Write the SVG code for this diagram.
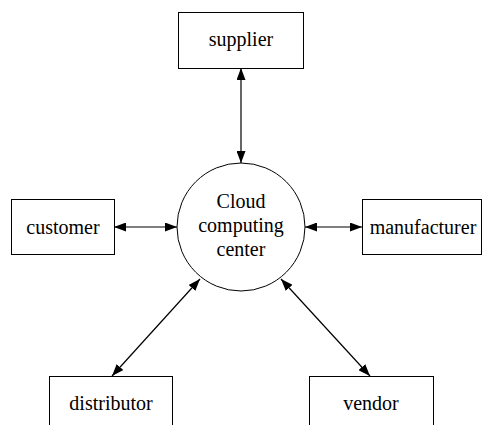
<svg xmlns="http://www.w3.org/2000/svg" width="483" height="425" viewBox="0 0 483 425">
<defs>
<marker id="ah" viewBox="0 0 12 9" refX="12" refY="4.5" markerWidth="12" markerHeight="9" markerUnits="userSpaceOnUse" orient="auto-start-reverse">
<path d="M0,0 L12,4.5 L0,9 Z" fill="#000"/>
</marker>
<style>
.box{fill:#fff;stroke:#000;stroke-width:1}
.t{font-family:"Liberation Serif",serif;font-size:20px;fill:#000;text-anchor:middle}
.c{stroke:#000;stroke-width:1.2;fill:none;marker-start:url(#ah);marker-end:url(#ah)}
</style>
</defs>
<rect width="483" height="425" fill="#fff"/>
<g id="connectors">
<line class="c" x1="241" y1="68" x2="241" y2="163"/>
<line class="c" x1="114" y1="227" x2="177" y2="227"/>
<line class="c" x1="305" y1="227" x2="362" y2="227"/>
<line class="c" x1="200" y1="279" x2="112" y2="376"/>
<line class="c" x1="281" y1="279" x2="370" y2="376"/>
</g>
<g id="supplier">
<rect class="box" x="178.5" y="12.5" width="125" height="56"/>
<text class="t" x="241" y="46">supplier</text>
</g>
<g id="center">
<circle cx="241" cy="227" r="64" fill="#fff" stroke="#000" stroke-width="1"/>
<text class="t" x="241" y="208">Cloud</text>
<text class="t" x="241" y="232">computing</text>
<text class="t" x="241" y="256">center</text>
</g>
<g id="customer">
<rect class="box" x="11.5" y="199.5" width="103" height="55"/>
<text class="t" x="63" y="234">customer</text>
</g>
<g id="manufacturer">
<rect class="box" x="362.5" y="199.5" width="119" height="55"/>
<text class="t" x="423" y="234">manufacturer</text>
</g>
<g id="distributor">
<rect class="box" x="49.5" y="376.5" width="123" height="60"/>
<text class="t" x="111" y="410">distributor</text>
</g>
<g id="vendor">
<rect class="box" x="309.5" y="376.5" width="124" height="60"/>
<text class="t" x="371" y="410">vendor</text>
</g>
</svg>
